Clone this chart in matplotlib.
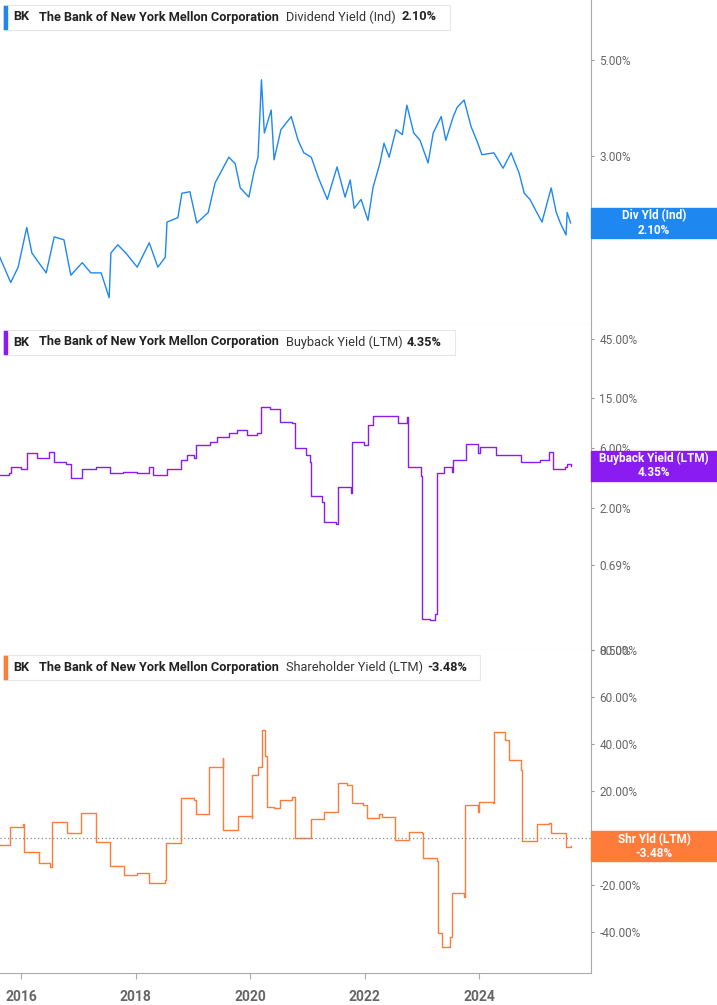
import matplotlib
matplotlib.use("Agg")
import matplotlib.pyplot as plt
from matplotlib.patches import Rectangle
from matplotlib.ticker import FixedLocator, NullLocator

plt.rcParams["font.family"] = "Roboto"

# ---------------------------------------------------------------------------
# Data (decimal years, percent)
# ---------------------------------------------------------------------------
div_t = [2015.63, 2015.82, 2015.95, 2016.10, 2016.19, 2016.31, 2016.44, 2016.58, 2016.75, 2016.87,
         2017.07, 2017.22, 2017.40, 2017.54, 2017.57, 2017.69, 2017.83, 2018.03, 2018.24, 2018.39,
         2018.52, 2018.55, 2018.74, 2018.81, 2018.95, 2019.07, 2019.27, 2019.39, 2019.63, 2019.74,
         2019.83, 2019.98, 2020.07, 2020.14, 2020.20, 2020.25, 2020.37, 2020.42, 2020.54, 2020.72,
         2020.84, 2020.94, 2021.07, 2021.19, 2021.35, 2021.52, 2021.66, 2021.75, 2021.82, 2021.94,
         2022.06, 2022.15, 2022.27, 2022.34, 2022.43, 2022.55, 2022.66, 2022.74, 2022.86, 2022.97,
         2023.11, 2023.20, 2023.34, 2023.42, 2023.55, 2023.62, 2023.74, 2023.86, 2023.98, 2024.05,
         2024.26, 2024.42, 2024.56, 2024.70, 2024.79, 2024.89, 2025.01, 2025.10, 2025.26, 2025.35,
         2025.42, 2025.52, 2025.54, 2025.60]
div_v = [1.75, 1.53, 1.66, 2.05, 1.79, 1.70, 1.61, 1.95, 1.92, 1.59,
         1.70, 1.61, 1.61, 1.41, 1.79, 1.87, 1.79, 1.66, 1.89, 1.66,
         1.75, 2.11, 2.16, 2.46, 2.48, 2.10, 2.22, 2.60, 2.98, 2.88,
         2.53, 2.41, 2.76, 2.98, 4.50, 3.39, 3.83, 2.94, 3.45, 3.70,
         3.26, 3.05, 2.98, 2.68, 2.38, 2.83, 2.41, 2.64, 2.27, 2.38,
         2.13, 2.54, 2.89, 3.21, 2.98, 3.45, 3.36, 3.93, 3.39, 3.26,
         2.89, 3.39, 3.70, 3.26, 3.70, 3.89, 4.04, 3.51, 3.21, 3.02,
         3.05, 2.81, 3.05, 2.74, 2.46, 2.38, 2.22, 2.11, 2.53, 2.22,
         2.10, 1.97, 2.22, 2.10]

buy_t = [2015.63, 2015.79, 2015.82, 2016.00, 2016.10, 2016.28, 2016.49, 2016.58, 2016.79, 2016.87,
         2017.03, 2017.07, 2017.31, 2017.55, 2017.78, 2018.03, 2018.24, 2018.31, 2018.52, 2018.55,
         2018.80, 2018.90, 2019.02, 2019.06, 2019.30, 2019.42, 2019.63, 2019.77, 2019.95, 2020.12,
         2020.20, 2020.35, 2020.52, 2020.73, 2020.79, 2020.98, 2021.05, 2021.06, 2021.26, 2021.29,
         2021.50, 2021.53, 2021.76, 2021.78, 2021.99, 2022.06, 2022.15, 2022.50, 2022.59, 2022.74,
         2022.76, 2022.99, 2023.01, 2023.14, 2023.23, 2023.27, 2023.38, 2023.53, 2023.55, 2023.77,
         2023.98, 2024.02, 2024.26, 2024.30, 2024.58, 2024.73, 2025.07, 2025.22, 2025.29, 2025.50,
         2025.54, 2025.60]
buy_v = [3.66, 3.79, 4.23, 4.10, 5.50, 5.00, 5.60, 4.60, 4.50, 3.48,
         3.48, 4.06, 4.23, 3.79, 3.85, 3.79, 4.23, 3.66, 3.66, 4.10,
         4.80, 5.30, 5.00, 6.30, 6.70, 7.30, 7.90, 8.40, 7.60, 7.90,
         12.7, 12.4, 9.70, 9.50, 6.00, 5.30, 4.60, 2.50, 2.20, 1.53,
         1.47, 2.93, 2.63, 6.70, 6.30, 9.10, 10.9, 10.9, 9.50, 10.7,
         4.23, 3.60, 0.256, 0.25, 0.28, 3.79, 4.23, 3.87, 4.80, 6.50,
         5.50, 6.10, 6.10, 5.30, 5.30, 4.60, 4.80, 5.60, 4.10, 4.23,
         4.50, 4.35]

shr_t = [2015.63, 2015.79, 2015.81, 2016.04, 2016.05, 2016.29, 2016.31, 2016.51, 2016.55, 2016.79,
         2016.80, 2017.03, 2017.05, 2017.29, 2017.31, 2017.54, 2017.55, 2017.77, 2017.80, 2018.03,
         2018.23, 2018.51, 2018.53, 2018.79, 2018.80, 2019.02, 2019.05, 2019.27, 2019.29, 2019.52,
         2019.53, 2019.77, 2019.79, 2020.03, 2020.04, 2020.14, 2020.21, 2020.26, 2020.29, 2020.42,
         2020.52, 2020.74, 2020.79, 2021.04, 2021.07, 2021.26, 2021.29, 2021.53, 2021.54, 2021.70,
         2021.78, 2021.98, 2022.04, 2022.26, 2022.30, 2022.50, 2022.53, 2022.77, 2022.78, 2023.00,
         2023.02, 2023.26, 2023.28, 2023.35, 2023.50, 2023.52, 2023.74, 2023.76, 2023.98, 2024.00,
         2024.24, 2024.27, 2024.45, 2024.52, 2024.73, 2024.75, 2024.99, 2025.01, 2025.22, 2025.26,
         2025.50, 2025.52, 2025.60]
shr_v = [-3.0, -3.0, 4.7, 6.0, -6.0, -6.0, -10.6, -12.3, 6.8, 6.8,
         2.1, 2.1, 10.6, 10.6, -1.7, -1.7, -11.9, -11.9, -15.7, -14.9,
         -19.1, -17.9, -2.1, -2.1, 17.0, 16.2, 10.2, 10.2, 30.2, 34.0,
         3.4, 3.4, 9.4, 8.5, 26.8, 30.2, 46.0, 35.0, 13.2, 12.8,
         16.2, 17.4, 0.0, 0.0, 8.1, 8.1, 11.1, 11.1, 23.4, 22.6,
         14.9, 14.0, 8.5, 10.2, 8.9, 8.9, -0.9, -0.9, 2.6, 2.1,
         -8.5, -9.8, -40.4, -46.4, -42.1, -23.4, -25.1, 14.0, 11.1, 15.3,
         14.9, 45.1, 41.7, 33.2, 28.9, -1.3, -1.3, 6.0, 6.4, 2.1,
         2.1, -3.8, -3.48]

year_ticks = [2016, 2018, 2020, 2022, 2024]

panels = [
    dict(t=div_t, v=div_v, color="#1e88f0", metric="Dividend Yield (Ind)", value="2.10%",
         tag="Div Yld (Ind)", last=2.10, scale="log", ylim=(1.22, 6.88), steps=False,
         ticks=[2, 3, 5], labels=["2.00%", "3.00%", "5.00%"], metric_x=286, value_x=402, box_w=450),
    dict(t=buy_t, v=buy_v, color="#8a1cf2", metric="Buyback Yield (LTM)", value="4.35%",
         tag="Buyback Yield (LTM)", last=4.35, scale="log", ylim=(0.145, 58), steps=True,
         ticks=[0.145, 0.69, 2, 6, 15, 45], labels=["0.50%", "0.69%", "2.00%", "6.00%", "15.00%", "45.00%"],
         metric_x=286, value_x=407, box_w=455),
    dict(t=shr_t, v=shr_v, color="#ff7b3a", metric="Shareholder Yield (LTM)", value="-3.48%",
         tag="Shr Yld (LTM)", last=-3.48, scale="linear", ylim=(-57.4, 80), steps=True,
         ticks=[-40, -20, 0, 20, 40, 60, 80],
         labels=["-40.00%", "-20.00%", "0.00%", "20.00%", "40.00%", "60.00%", "80.00%"],
         metric_x=286, value_x=427, box_w=480),
]

W, H = 717, 1005
fig = plt.figure(figsize=(W / 100, H / 100), dpi=100)
tops = [0, 325, 650]
bottoms = [325, 650, 973]
plot_w = 591
grey = "#666666"

for i, p in enumerate(panels):
    top, bot = tops[i], bottoms[i]
    ax = fig.add_axes([0, 1 - bot / H, plot_w / W, (bot - top) / H])
    ax.plot(p["t"], p["v"], color=p["color"], lw=1.0,
            drawstyle="steps-post" if p["steps"] else "default")
    ax.set_yscale(p["scale"])
    ax.set_ylim(*p["ylim"])
    ax.set_xlim(2015.633, 2025.956)
    ax.yaxis.tick_right()
    ax.yaxis.set_major_locator(FixedLocator(p["ticks"]))
    ax.yaxis.set_minor_locator(NullLocator())
    ax.set_yticklabels(p["labels"])
    ax.tick_params(axis="y", length=2, width=0.8, color="#999999", labelcolor=grey,
                   labelsize=8.5, pad=4)
    for s in ["left", "top"]:
        ax.spines[s].set_visible(False)
    ax.spines["right"].set_color("#aaaaaa")
    ax.spines["bottom"].set_color("#cccccc" if i < 2 else "#aaaaaa")
    ax.set_xticks(year_ticks)
    if i < 2:
        ax.tick_params(axis="x", length=0, labelbottom=False)
    else:
        ax.set_xticklabels([str(y) for y in year_ticks])
        ax.tick_params(axis="x", length=4, color="#aaaaaa", labelcolor=grey, labelsize=10, pad=8)
        for lb in ax.get_xticklabels():
            lb.set_fontweight("bold")
        ax.axhline(0, color="#888888", lw=0.9, ls=(0, (1, 2)))

    # right value tag
    fy = ax.transData.transform((2020, p["last"]))[1] / H
    fig.patches.append(Rectangle((plot_w / W, fy - 15 / H), 1 - plot_w / W, 30 / H,
                                 transform=fig.transFigure, color=p["color"], zorder=5))
    fig.text((plot_w + 63) / W, fy, p["tag"] + "\n" + format(p["last"], ".2f") + "%",
             ha="center", va="center", color="white", fontsize=8.5, fontweight="bold",
             linespacing=1.1, zorder=6)

    # legend header
    fig.patches.append(Rectangle((3 / W, 1 - (top + 30) / H), (p["box_w"] - 3) / W, 25 / H,
                                 transform=fig.transFigure, facecolor="white",
                                 edgecolor="#e6e6e6", lw=0.8, zorder=5))
    fig.patches.append(Rectangle((4 / W, 1 - (top + 29) / H), 2.5 / W, 23 / H,
                                 transform=fig.transFigure, color=p["color"], zorder=6))
    ty = 1 - (top + 17) / H
    fs = 9.2
    fig.text(13 / W, ty, "BK", fontsize=fs, fontweight="bold", color="#222222", va="center", zorder=7)
    fig.text(39 / W, ty, "The Bank of New York Mellon Corporation", fontsize=fs, fontweight="bold",
             color="#222222", va="center", zorder=7)
    fig.text(p["metric_x"] / W, ty, p["metric"], fontsize=fs, color="#333333", va="center", zorder=7)
    fig.text(p["value_x"] / W, ty, p["value"], fontsize=fs, fontweight="bold",
             color="#222222", va="center", zorder=7)

fig.savefig("out.png", dpi=100)
